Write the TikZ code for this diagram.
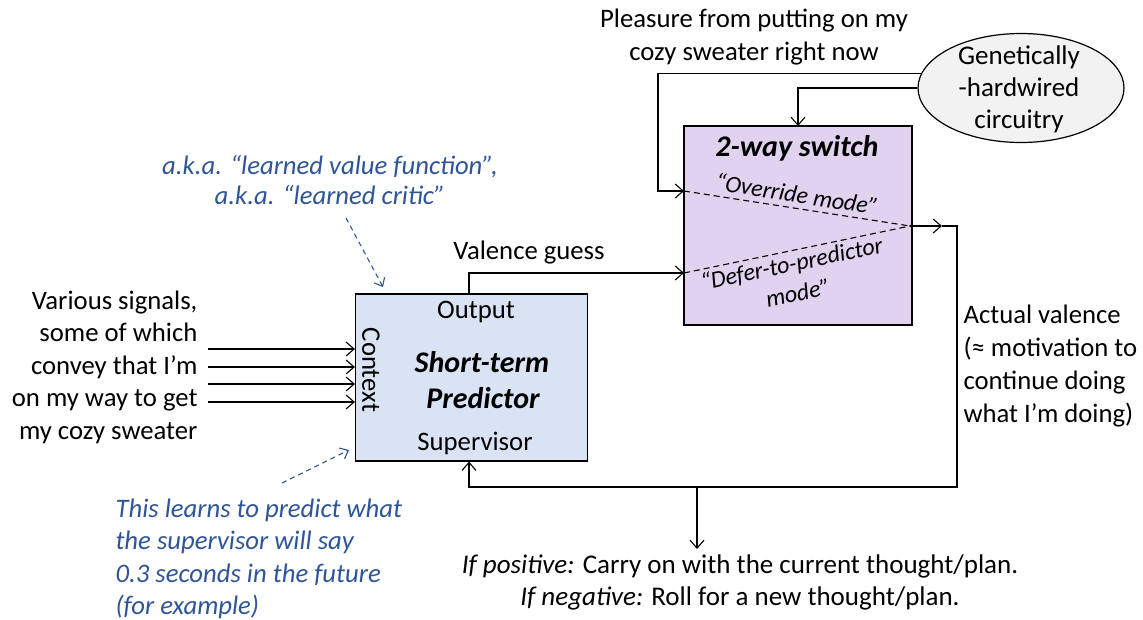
\documentclass[tikz,border=0pt]{standalone}
\usepackage{fontspec}
\setmainfont{Carlito}
\usetikzlibrary{arrows.meta,shapes.geometric}
\definecolor{predfill}{RGB}{218,227,243}
\definecolor{switchfill}{RGB}{225,210,240}
\definecolor{ellfill}{RGB}{242,242,242}
\definecolor{notes}{RGB}{47,85,151}
\tikzset{
  arr/.style={-{Straight Barb[length=8pt,width=14pt]}},
  notearr/.style={draw=notes,dashed,dash pattern=on 5pt off 4pt,-{Straight Barb[length=7pt,width=12pt]}},
  box/.style={draw,line width=1.2pt,inner sep=0pt},
  txt/.style={inner sep=0pt},
  big/.style={font=\fontsize{26.7}{32.5}\selectfont},
  small/.style={font=\fontsize{24}{28}\selectfont\itshape},
  heavy/.style={font=\fontsize{30}{36}\selectfont\bfseries\itshape},
}
\begin{document}
\begin{tikzpicture}[x=1pt,y=-1pt,line width=1.1pt,big]
\useasboundingbox (0,0) rectangle (1143,619);

% main blocks
\node[box,fill=predfill,minimum width=232pt,minimum height=167pt] (pred) at (471.5,377.5) {};
\node[box,fill=switchfill,minimum width=228pt,minimum height=199pt] (sw) at (798,225.5) {};
\node[box,ellipse,fill=ellfill,minimum width=206pt,minimum height=109pt] (gen) at (1021,88) {};

% labels inside the blocks
\node[txt] (outLbl) at (476,312) {Output};
\node[txt,heavy] (predLblA) at (482,362) {Short-term};
\node[txt,heavy] (predLblB) at (483,398) {Predictor};
\node[txt] (supLbl) at (475,443) {Supervisor};
\node[txt,rotate=-90] (ctxLbl) at (371,370) {Context};
\node[txt,heavy] (swLbl) at (797,148) {2-way switch};
\node[txt,align=center,font=\fontsize{27}{32}\selectfont] (genLbl) at (1019,89) {Genetically\\-hardwired\\circuitry};

% switch internals
\coordinate (ovIn) at (684,191);
\coordinate (dfIn) at (684,273);
\coordinate (mix) at (910,226);
\draw[dashed,dash pattern=on 6pt off 4pt] (ovIn) -- (mix);
\draw[dashed,dash pattern=on 6pt off 4pt] (dfIn) -- (mix);
\node[txt,small,rotate=-9] (ovLbl) at (797,194) {“Override mode”};
\node[txt,small,rotate=12] (dfLblA) at (792,265) {“Defer-to-predictor};
\node[txt,small,rotate=12] (dfLblB) at (798,293) {mode”};

% hardwired inputs to the switch
\coordinate (ovTurn) at (658,191);
\coordinate (hwIn) at (798,126);
\draw[arr] (gen.172) -| (ovTurn) -- (ovIn);
\draw[arr] (gen.west) -| (hwIn);
\node[txt,align=center] (pleasure) at (754,37) {Pleasure from putting on my\\cozy sweater right now};

% predictor output to the switch
\coordinate (supX) at (469,487);
\draw[arr] (pred.north -| supX) |- (dfIn);
\node[txt] (vgLbl) at (529,253) {Valence guess};

% switch output, fed back to the supervisor
\coordinate (outTip) at (942,226);
\coordinate (fbCorner) at (957,487);
\coordinate (decide) at (697,487);
\coordinate (decideEnd) at (697,549);
\draw[arr] (mix) -- (outTip);
\draw[arr] (outTip) -| (fbCorner) -- (supX) -- (supX |- pred.south);
\draw[arr] (decide) -- (decideEnd);
\node[txt,anchor=west,align=left,font=\fontsize{26.7}{33}\selectfont] (actual) at (963,366)
  {Actual valence\\(≈ motivation to\\continue doing\\what I’m doing)};
\node[txt,align=center,font=\fontsize{27}{32}\selectfont] (decision) at (740,582)
  {\textit{If positive:} Carry on with the current thought/plan.\\\textit{If negative:} Roll for a new thought/plan.};

% context signals
\node[txt,anchor=east,align=right] (signals) at (198,367)
  {Various signals,\\some of which\\convey that I’m\\on my way to get\\my cozy sweater};
\coordinate (inA) at (208,349);
\coordinate (inB) at (208,367);
\coordinate (inC) at (208,384);
\coordinate (inD) at (208,402);
\foreach \c in {inA,inB,inC,inD} \draw[arr] (\c) -- (pred.west |- \c);

% annotations
\node[txt,align=center,text=notes,font=\fontsize{26.7}{30}\selectfont\itshape] (aka) at (330,180)
  {a.k.a. “learned value function”,\\a.k.a. “learned critic”};
\coordinate (akaTail) at (346,218);
\coordinate (akaHead) at (383,287);
\draw[notearr] (akaTail) -- (akaHead);
\node[txt,anchor=west,align=left,text=notes,font=\fontsize{26.7}{32.5}\selectfont\itshape] (learns) at (115,559)
  {This learns to predict what\\the supervisor will say\\0.3 seconds in the future\\(for example)};
\coordinate (learnTail) at (282,483);
\coordinate (learnHead) at (349,450);
\draw[notearr] (learnTail) -- (learnHead);
\end{tikzpicture}
\end{document}
